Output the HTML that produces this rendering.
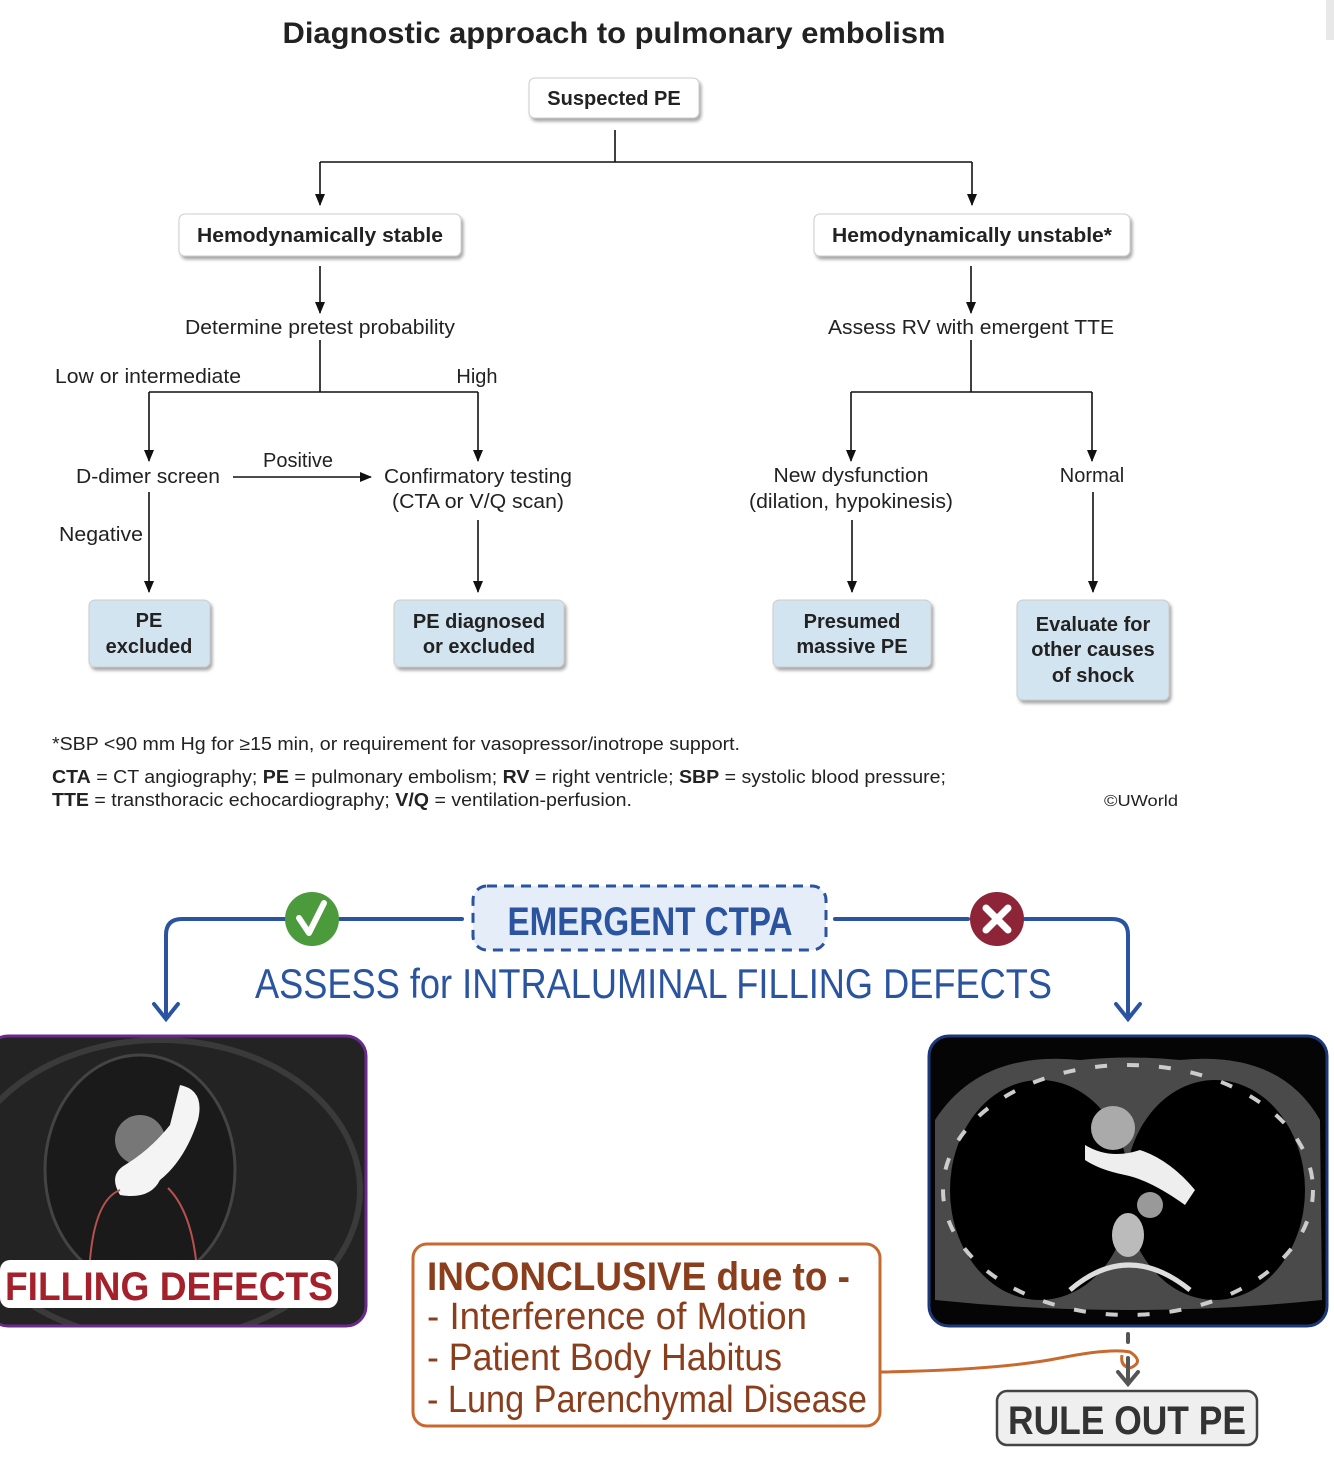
<!DOCTYPE html>
<html><head><meta charset="utf-8"><style>
html,body{margin:0;padding:0;background:#fff;}
svg{display:block;}
.t{font-family:"Liberation Sans",sans-serif;fill:#222;}
.b{font-weight:bold;}
.h{font-family:"Liberation Sans Narrow","Liberation Sans",sans-serif;}
</style></head><body>
<svg width="1334" height="1460" viewBox="0 0 1334 1460" xmlns="http://www.w3.org/2000/svg">
<defs>
<marker id="a" markerWidth="12" markerHeight="10" refX="11" refY="5" orient="auto" markerUnits="userSpaceOnUse"><path d="M0,0 L12,5 L0,10 z" fill="#111"/></marker>
<filter id="sh" x="-10%" y="-10%" width="130%" height="140%"><feDropShadow dx="2" dy="3" stdDeviation="1.5" flood-color="#000" flood-opacity="0.35"/></filter>
<clipPath id="cl"><rect x="-12" y="1036" width="378" height="290" rx="20"/></clipPath>
<clipPath id="cr"><rect x="929" y="1036" width="398" height="290" rx="20"/></clipPath>
</defs>
<rect x="1326" y="0" width="8" height="40" fill="#e8e8e8"/>
<text x="614" y="43" text-anchor="middle" class="t b" font-size="30" fill="#111" textLength="663" lengthAdjust="spacingAndGlyphs">Diagnostic approach to pulmonary embolism</text>

<g stroke="#111" stroke-width="1.6" fill="none">
<path d="M615 130 V162 M320 162 H972"/>
<path d="M320 162 V205" marker-end="url(#a)"/>
<path d="M972 162 V205" marker-end="url(#a)"/>
<path d="M320 266 V313" marker-end="url(#a)"/>
<path d="M971 266 V313" marker-end="url(#a)"/>
<path d="M320 340 V392 M149 392 H478"/>
<path d="M149 392 V461" marker-end="url(#a)"/>
<path d="M478 392 V461" marker-end="url(#a)"/>
<path d="M233 477 H371" marker-end="url(#a)"/>
<path d="M149 492 V592" marker-end="url(#a)"/>
<path d="M478 520 V592" marker-end="url(#a)"/>
<path d="M971 340 V392 M851 392 H1092"/>
<path d="M851 392 V461" marker-end="url(#a)"/>
<path d="M1092 392 V461" marker-end="url(#a)"/>
<path d="M852 520 V592" marker-end="url(#a)"/>
<path d="M1093 492 V592" marker-end="url(#a)"/>
</g>

<g filter="url(#sh)" stroke="#ccc" stroke-width="1">
<rect x="529" y="78" width="170" height="40" rx="6" fill="#fff"/>
<rect x="179" y="214" width="282" height="42" rx="6" fill="#fff"/>
<rect x="814" y="214" width="316" height="42" rx="6" fill="#fff"/>
<rect x="89" y="600" width="121" height="67" rx="6" fill="#d3e4f1"/>
<rect x="394" y="600" width="170" height="67" rx="6" fill="#d3e4f1"/>
<rect x="773" y="600" width="158" height="67" rx="6" fill="#d3e4f1"/>
<rect x="1017" y="600" width="152" height="100" rx="6" fill="#d3e4f1"/>
</g>
<g class="t b" font-size="20" text-anchor="middle">
<text x="614" y="105">Suspected PE</text>
<text x="320" y="242" textLength="246" lengthAdjust="spacingAndGlyphs">Hemodynamically stable</text>
<text x="972" y="242" textLength="280" lengthAdjust="spacingAndGlyphs">Hemodynamically unstable*</text>
<text x="149" y="627">PE</text><text x="149" y="653">excluded</text>
<text x="479" y="628">PE diagnosed</text><text x="479" y="653">or excluded</text>
<text x="852" y="628">Presumed</text><text x="852" y="653">massive PE</text>
<text x="1093" y="631">Evaluate for</text><text x="1093" y="656">other causes</text><text x="1093" y="682">of shock</text>
</g>
<g class="t" font-size="20" text-anchor="middle">
<text x="320" y="334" textLength="270" lengthAdjust="spacingAndGlyphs">Determine pretest probability</text>
<text x="971" y="334" textLength="286" lengthAdjust="spacingAndGlyphs">Assess RV with emergent TTE</text>
<text x="477" y="383">High</text>
<text x="148" y="483" textLength="144" lengthAdjust="spacingAndGlyphs">D-dimer screen</text>
<text x="298" y="467">Positive</text>
<text x="478" y="483" textLength="188" lengthAdjust="spacingAndGlyphs">Confirmatory testing</text>
<text x="478" y="508" textLength="172" lengthAdjust="spacingAndGlyphs">(CTA or V/Q scan)</text>
<text x="851" y="482" textLength="155" lengthAdjust="spacingAndGlyphs">New dysfunction</text>
<text x="851" y="508" textLength="204" lengthAdjust="spacingAndGlyphs">(dilation, hypokinesis)</text>
<text x="1092" y="482">Normal</text>
</g>
<g class="t" font-size="20">
<text x="55" y="383" textLength="186" lengthAdjust="spacingAndGlyphs">Low or intermediate</text>
<text x="59" y="541" textLength="84" lengthAdjust="spacingAndGlyphs">Negative</text>
</g>
<g class="t" font-size="18">
<text x="52" y="750" textLength="688" lengthAdjust="spacingAndGlyphs">*SBP &lt;90 mm Hg for ≥15 min, or requirement for vasopressor/inotrope support.</text>
<text x="52" y="783" textLength="894" lengthAdjust="spacingAndGlyphs"><tspan class="b">CTA</tspan> = CT angiography; <tspan class="b">PE</tspan> = pulmonary embolism; <tspan class="b">RV</tspan> = right ventricle; <tspan class="b">SBP</tspan> = systolic blood pressure;</text>
<text x="52" y="806" textLength="580" lengthAdjust="spacingAndGlyphs"><tspan class="b">TTE</tspan> = transthoracic echocardiography; <tspan class="b">V/Q</tspan> = ventilation-perfusion.</text>
<text x="1104" y="806" font-size="16" textLength="74" lengthAdjust="spacingAndGlyphs">©UWorld</text>
</g>

<!-- bottom section -->
<g stroke="#2a54a0" stroke-width="4" fill="none" stroke-linecap="round">
<path d="M286 919 H182 Q166 919 166 935 V1018"/>
<path d="M154 1004 L166 1019 L178 1004"/>
<path d="M340 919 H462"/>
<path d="M835 919 H968"/>
<path d="M1025 919 H1112 Q1128 919 1128 935 V1018"/>
<path d="M1116 1004 L1128 1019 L1140 1004"/>
</g>
<rect x="473" y="886" width="353" height="64" rx="14" fill="#e5edf8" stroke="#2a54a0" stroke-width="3" stroke-dasharray="10 7"/>
<text x="650" y="935" text-anchor="middle" class="h b" font-size="40" fill="#2a54a0" textLength="285" lengthAdjust="spacingAndGlyphs">EMERGENT CTPA</text>
<circle cx="312" cy="919" r="27" fill="#4b9a3c"/>
<path d="M299 918 L309 933 L324 903" stroke="#fff" stroke-width="6" fill="none" stroke-linecap="round" stroke-linejoin="round"/>
<circle cx="997" cy="919" r="27" fill="#8e2438"/>
<path d="M986 908 L1008 930 M1008 908 L986 930" stroke="#fff" stroke-width="7" stroke-linecap="round"/>
<text x="255" y="998" class="h" font-size="42" fill="#2a54a0" textLength="797" lengthAdjust="spacingAndGlyphs">ASSESS for INTRALUMINAL FILLING DEFECTS</text>

<!-- left CT -->
<rect x="-12" y="1036" width="378" height="290" rx="20" fill="#232323"/>
<g clip-path="url(#cl)">
<ellipse cx="160" cy="1190" rx="200" ry="150" fill="none" stroke="#3a3a3a" stroke-width="6"/>
<ellipse cx="140" cy="1170" rx="95" ry="115" fill="#1a1a1a" stroke="#444" stroke-width="3"/>
<circle cx="140" cy="1140" r="25" fill="#777"/>
<path d="M180 1085 Q205 1090 198 1120 Q185 1160 160 1180 Q150 1200 120 1195 Q108 1175 125 1165 Q150 1150 170 1125 Z" fill="#f4f4f4"/>
<path d="M90 1260 Q95 1200 120 1190 M196 1260 Q190 1210 168 1188" stroke="#b85050" stroke-width="2" fill="none"/>
</g>
<rect x="-12" y="1036" width="378" height="290" rx="20" fill="none" stroke="#6a2a8c" stroke-width="3"/>
<rect x="0" y="1260" width="338" height="48" rx="10" fill="#fff"/>
<text x="5" y="1300" class="h b" font-size="40" fill="#a4202a" textLength="328" lengthAdjust="spacingAndGlyphs">FILLING DEFECTS</text>

<!-- right CT -->
<rect x="929" y="1036" width="398" height="290" rx="20" fill="#050505"/>
<g clip-path="url(#cr)">
<path d="M935 1120 Q980 1050 1080 1060 Q1130 1055 1180 1060 Q1280 1050 1320 1120 L1322 1300 Q1128 1320 935 1300 Z" fill="#4a4a4a"/>
<ellipse cx="1040" cy="1190" rx="90" ry="110" fill="#000"/>
<ellipse cx="1215" cy="1190" rx="90" ry="110" fill="#000"/>
<ellipse cx="1128" cy="1190" rx="185" ry="125" fill="none" stroke="#ccc" stroke-width="4" stroke-dasharray="12 20"/>
<circle cx="1113" cy="1128" r="22" fill="#aaa"/>
<path d="M1085 1145 Q1110 1160 1140 1150 Q1170 1160 1195 1190 L1185 1205 Q1150 1180 1125 1175 Q1100 1170 1085 1160 Z" fill="#eee"/>
<circle cx="1150" cy="1205" r="13" fill="#999"/>
<ellipse cx="1128" cy="1235" rx="16" ry="22" fill="#bbb"/>
<path d="M1070 1290 Q1128 1240 1190 1290" stroke="#ddd" stroke-width="5" fill="none"/>
</g>
<rect x="929" y="1036" width="398" height="290" rx="20" fill="none" stroke="#1c3878" stroke-width="3"/>

<!-- inconclusive -->
<rect x="413" y="1244" width="467" height="182" rx="14" fill="#fff" stroke="#c86a30" stroke-width="3"/>
<g class="h" fill="#8a3e1c">
<text x="427" y="1290" font-size="40" font-weight="bold" textLength="423" lengthAdjust="spacingAndGlyphs">INCONCLUSIVE due to -</text>
<text x="427" y="1329" font-size="38" textLength="380" lengthAdjust="spacingAndGlyphs">- Interference of Motion</text>
<text x="427" y="1370" font-size="38" textLength="355" lengthAdjust="spacingAndGlyphs">- Patient Body Habitus</text>
<text x="427" y="1412" font-size="38" textLength="440" lengthAdjust="spacingAndGlyphs">- Lung Parenchymal Disease</text>
</g>
<path d="M880 1372 Q1000 1370 1060 1358 Q1110 1348 1130 1352 Q1145 1362 1130 1368 Q1120 1366 1122 1355" stroke="#c86a30" stroke-width="3" fill="none"/>
<path d="M1128 1334 V1342 M1128 1358 V1382 M1118 1372 L1128 1384 L1138 1372" stroke="#555" stroke-width="4" fill="none" stroke-linecap="round"/>
<rect x="997" y="1391" width="260" height="54" rx="10" fill="#efefef" stroke="#444" stroke-width="2.5"/>
<text x="1127" y="1434" text-anchor="middle" class="h b" font-size="40" fill="#333" textLength="238" lengthAdjust="spacingAndGlyphs">RULE OUT PE</text>
</svg>
</body></html>
